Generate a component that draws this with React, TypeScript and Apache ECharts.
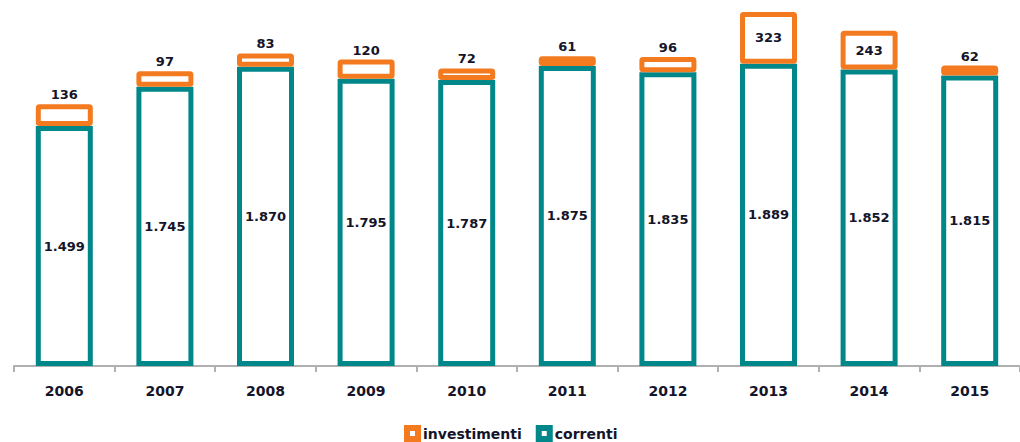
import React, { useEffect, useRef } from "react";
import * as echarts from "echarts";

const categories = ["2006", "2007", "2008", "2009", "2010", "2011", "2012", "2013", "2014", "2015"];
const correnti = [1499, 1745, 1870, 1795, 1787, 1875, 1835, 1889, 1852, 1815];
const investimenti = [136, 97, 83, 120, 72, 61, 96, 323, 243, 62];
const insideLabelThreshold = 200;

const ORANGE = "#F47A20";
const TEAL = "#00878A";
const TEXT = "#14142a";
const FONT = "DejaVu Sans";

const fmt = (v: number) => String(v).replace(/\B(?=(\d{3})+(?!\d))/g, ".");

export default function App() {
  const ref = useRef<HTMLDivElement>(null);
  useEffect(() => {
    if (!ref.current) return;
    const chart = echarts.init(ref.current, undefined, { renderer: "svg" });
    const maxTotal = Math.max(...correnti.map((v, i) => v + investimenti[i]));
    chart.setOption({
      animation: false,
      backgroundColor: "#ffffff",
      grid: { left: 14, width: 1017, top: 12, bottom: 76, containLabel: false },
      legend: {
        top: 425,
        left: 404,
        padding: 0,
        itemWidth: 11,
        itemHeight: 11,
        itemGap: 14,
        icon: "rect",
        textStyle: { fontFamily: FONT, fontSize: 14, fontWeight: "bold", color: TEXT, lineHeight: 16 },
        data: [
          { name: "investimenti", itemStyle: { color: "#fff", borderColor: ORANGE, borderWidth: 6 } },
          { name: "correnti", itemStyle: { color: "#fff", borderColor: TEAL, borderWidth: 6 } },
        ],
      },
      xAxis: {
        type: "category",
        data: categories,
        axisLine: { lineStyle: { color: "#b0b0b0", width: 2 } },
        axisTick: { show: true, length: 6, lineStyle: { color: "#b0b0b0", width: 2 } },
        axisLabel: { fontFamily: FONT, fontSize: 14, fontWeight: "bold", color: TEXT, margin: 18 },
      },
      yAxis: { type: "value", min: 0, max: maxTotal, show: false, splitLine: { show: false } },
      series: [
        {
          name: "correnti",
          type: "bar",
          stack: "tot",
          barWidth: 57,
          itemStyle: { color: "#ffffff", borderColor: TEAL, borderWidth: 5 },
          label: {
            show: true,
            position: "inside",
            fontFamily: FONT,
            fontSize: 13,
            fontWeight: "bold",
            color: TEXT,
            formatter: (p: any) => fmt(p.value),
          },
          data: correnti,
        },
        {
          name: "investimenti",
          type: "bar",
          stack: "tot",
          barWidth: 57,
          itemStyle: { color: "#ffffff", borderColor: ORANGE, borderWidth: 5, borderRadius: 1 },
          label: {
            show: true,
            fontFamily: FONT,
            fontSize: 13,
            fontWeight: "bold",
            color: TEXT,
            formatter: (p: any) => fmt(p.value),
          },
          data: investimenti.map((v) => ({
            value: v,
            label: v > insideLabelThreshold ? { position: "inside" } : { position: "top", distance: 3 },
          })),
        },
      ],
    });
    return () => chart.dispose();
  }, []);
  return (
    <div
      ref={ref}
      style={{ position: "absolute", left: 0, top: 0, width: 1020, height: 442 }}
    />
  );
}
